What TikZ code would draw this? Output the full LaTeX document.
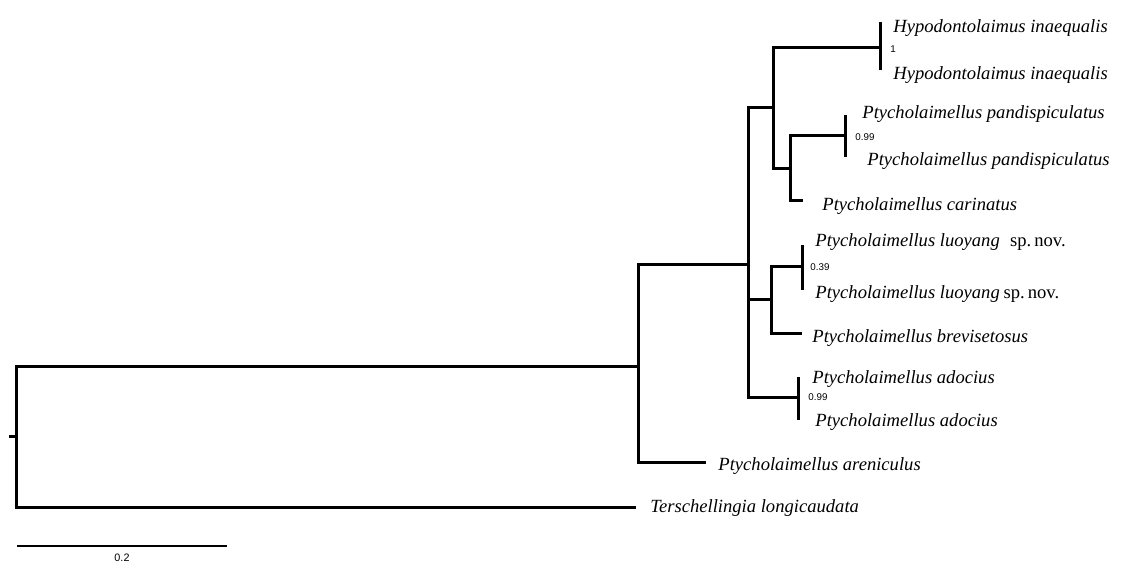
\documentclass[tikz,border=0pt]{standalone}
\usepackage{fontspec}
\setmainfont{Liberation Serif}
\newfontfamily\arialfont{Liberation Sans}

\begin{document}
\begin{tikzpicture}[x=0.5pt,y=-0.5pt,
  br/.style={line width=1.5pt},
  taxon/.style={anchor=west,inner sep=0pt,yshift=-1pt,font=\fontsize{9.3}{11}\selectfont\itshape},
  supp/.style={anchor=west,inner sep=0pt,font=\fontsize{4.9}{5}\selectfont\arialfont}]
\useasboundingbox (0,0) rectangle (1121,571);
% internal nodes
\coordinate (stub) at (9,437);
\coordinate (root) at (16,437);
\coordinate (a) at (638,367);
\coordinate (b) at (748,265);
\coordinate (c) at (773,108);
\coordinate (f) at (880,48);
\coordinate (g) at (790,169);
\coordinate (i) at (845,136);
\coordinate (d) at (771,300);
\coordinate (j) at (802,267);
\coordinate (e) at (798,398);
% tips
\coordinate (hy1) at (880,22);\coordinate (hy2) at (880,70);
\coordinate (pa1) at (845,115);\coordinate (pa2) at (845,157);
\coordinate (ca) at (803,201);
\coordinate (lu1) at (802,245);\coordinate (lu2) at (802,290);
\coordinate (bv) at (802,334);
\coordinate (ad1) at (798,377);\coordinate (ad2) at (798,420);
\coordinate (ar) at (706,463);
\coordinate (te) at (636,508);
% branches
\draw[br] (stub)--(root);
\draw[br] (root) |- (a);\draw[br] (root) |- (te);
\draw[br] (a) |- (b);\draw[br] (a) |- (ar);
\draw[br] (b) |- (c);\draw[br] (b) |- (d);\draw[br] (b) |- (e);
\draw[br] (c) |- (f);\draw[br] (c) |- (g);
\draw[br] (f) |- (hy1);\draw[br] (f) |- (hy2);
\draw[br] (g) |- (i);\draw[br] (g) |- (ca);
\draw[br] (i) |- (pa1);\draw[br] (i) |- (pa2);
\draw[br] (d) |- (j);\draw[br] (d) |- (bv);
\draw[br] (j) |- (lu1);\draw[br] (j) |- (lu2);
\draw[br] (e) |- (ad1);\draw[br] (e) |- (ad2);
% taxa
\node[taxon] (thy1) at (893,26) {Hypodontolaimus inaequalis};
\node[taxon] (thy2) at (893,73) {Hypodontolaimus inaequalis};
\node[taxon] (tpa1) at (862,112) {Ptycholaimellus pandispiculatus};
\node[taxon] (tpa2) at (867,159) {Ptycholaimellus pandispiculatus};
\node[taxon] (tca) at (822,204) {Ptycholaimellus carinatus};
\node[taxon] (tlu1) at (815,240) {Ptycholaimellus luoyang\hspace{0.55em}\upshape sp.\,nov.};
\node[taxon] (tlu2) at (815,292) {Ptycholaimellus luoyang\hspace{0.2em}\upshape sp.\,nov.};
\node[taxon] (tbv) at (812,336) {Ptycholaimellus brevisetosus};
\node[taxon] (tad1) at (812,377) {Ptycholaimellus adocius};
\node[taxon] (tad2) at (815,420) {Ptycholaimellus adocius};
\node[taxon] (tar) at (718,464) {Ptycholaimellus areniculus};
\node[taxon] (tte) at (650,506) {Terschellingia longicaudata};
% support
\node[supp] (s1) at (890,49) {1};
\node[supp] (s2) at (855,137) {0.99};
\node[supp] (s3) at (810,267) {0.39};
\node[supp] (s4) at (808,397) {0.99};
% scale
\coordinate (sb0) at (17,546);\coordinate (sb1) at (227,546);
\draw[line width=0.7pt] (sb0)--(sb1);
\node[supp,anchor=center,font=\fontsize{5.4}{6}\selectfont\arialfont] (sl) at (122,558) {0.2};
\end{tikzpicture}
\end{document}
